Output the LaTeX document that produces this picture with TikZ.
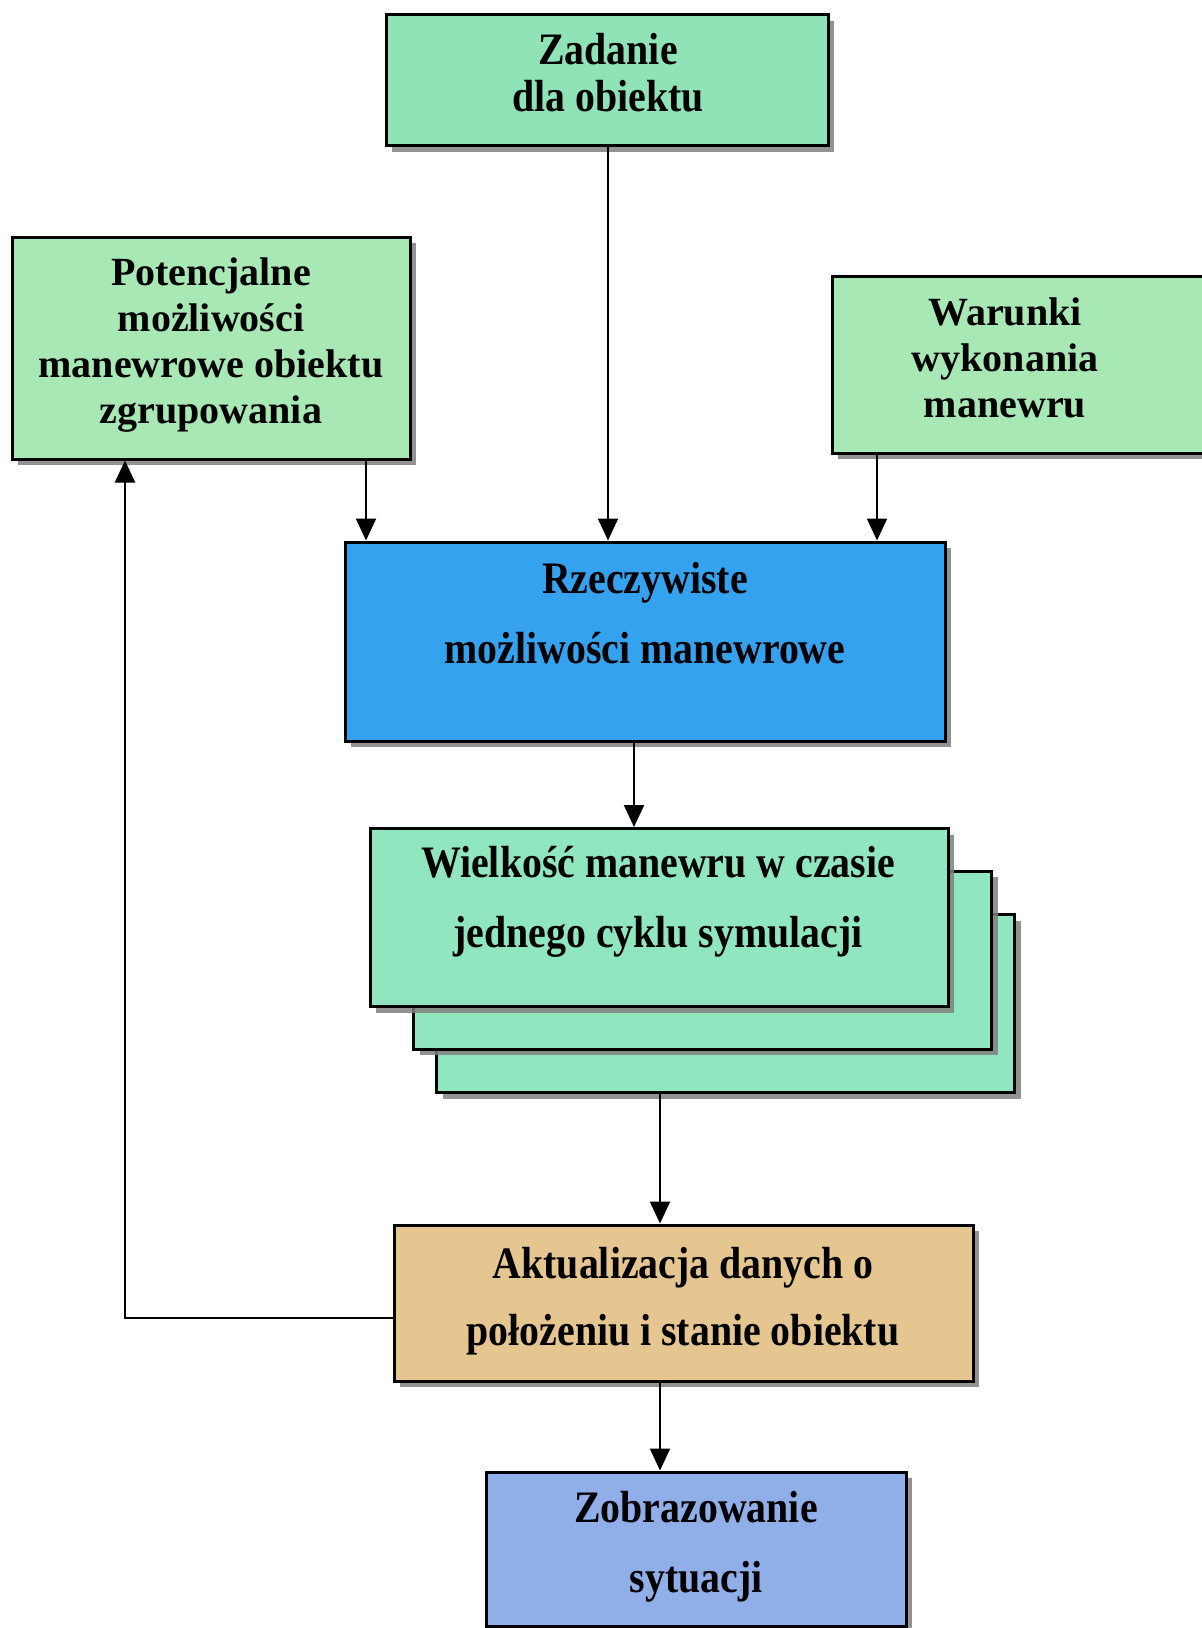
\documentclass[tikz,border=0pt]{standalone}
\usepackage{fontspec}
\setmainfont{Liberation Serif}
\newfontfamily\tallfont[FakeStretch=0.885]{Liberation Serif}
\usetikzlibrary{arrows.meta,shadows}
\definecolor{cZad}{HTML}{8FE3B6}
\definecolor{cPot}{HTML}{A8E8B5}
\definecolor{cRz}{HTML}{35A2EF}
\definecolor{cWk}{HTML}{90E6BE}
\definecolor{cAk}{HTML}{E5C690}
\definecolor{cZob}{HTML}{90AEE8}
\begin{document}
\begin{tikzpicture}[x=1pt,y=-1pt,
  box/.style={draw=black, line width=3pt, inner sep=0pt,
    drop shadow={shadow xshift=6pt, shadow yshift=-6pt, fill=black!50, opacity=0.85}},
  normtxt/.style={align=center, font=\bfseries\fontsize{40}{46}\selectfont},
  talltxt/.style={align=center, font=\tallfont\bfseries\fontsize{45}{#1}\selectfont},
  arr/.style={line width=2.2pt, -{Triangle[width=20pt,length=22pt]}}]
\useasboundingbox (0,0) rectangle (1202,1628);
\fill[white] (0,0) rectangle (1202,1628);

% boxes
\node[box, fill=cZad, minimum width=442pt, minimum height=131pt] (zad) at (607,80) {};
\node[box, fill=cPot, minimum width=398pt, minimum height=222pt] (pot) at (211,348) {};
\node[box, fill=cPot, minimum width=384pt, minimum height=177pt] (war) at (1024,364.5) {};
\node[box, fill=cRz, minimum width=600pt, minimum height=199pt] (rz) at (645,641.5) {};
\node[box, fill=cWk, minimum width=578pt, minimum height=178pt] (w3) at (725.5,1003.5) {};
\node[box, fill=cWk, minimum width=578pt, minimum height=178pt] (w2) at (702.5,960) {};
\node[box, fill=cWk, minimum width=578pt, minimum height=178pt] (w1) at (659,917.5) {};
\node[box, fill=cAk, minimum width=579pt, minimum height=156pt] (ak) at (683.5,1303) {};
\node[box, fill=cZob, minimum width=420pt, minimum height=154pt] (zob) at (696,1549) {};

% texts
\node[talltxt=47] (zadT) at (608,73) {Zadanie\\dla obiektu};
\node[normtxt] (potT) at (211,345) {Potencjalne\\możliwości\\manewrowe obiektu\\zgrupowania};
\node[normtxt] (warT) at (1005,358) {Warunki\\wykonania\\manewru};
\node[talltxt=70] (rzT) at (645,613) {Rzeczywiste\\możliwości manewrowe};
\node[talltxt=70] (w1T) at (658,902) {Wielkość manewru w czasie\\jednego cyklu symulacji};
\node[talltxt=67] (akT) at (683,1301) {Aktualizacja danych o\\położeniu i stanie obiektu};
\node[talltxt=70] (zobT) at (696,1547) {Zobrazowanie\\sytuacji};

% connector x positions
\coordinate (xP) at (366,0);
\coordinate (xZ) at (608,0);
\coordinate (xW) at (877,0);
\coordinate (xR) at (634,0);
\coordinate (xA) at (660,0);
\coordinate (fb) at (125,1318);

\draw[arr] (xZ |- zad.south) -- (xZ |- rz.north);
\draw[arr] (xP |- pot.south) -- (xP |- rz.north);
\draw[arr] (xW |- war.south) -- (xW |- rz.north);
\draw[arr] (xR |- rz.south) -- (xR |- w1.north);
\draw[arr] (xA |- w3.south) -- (xA |- ak.north);
\draw[arr] (xA |- ak.south) -- (xA |- zob.north);
\draw[arr] (ak.west |- fb) -- (fb) -- (fb |- pot.south);
\end{tikzpicture}
\end{document}
